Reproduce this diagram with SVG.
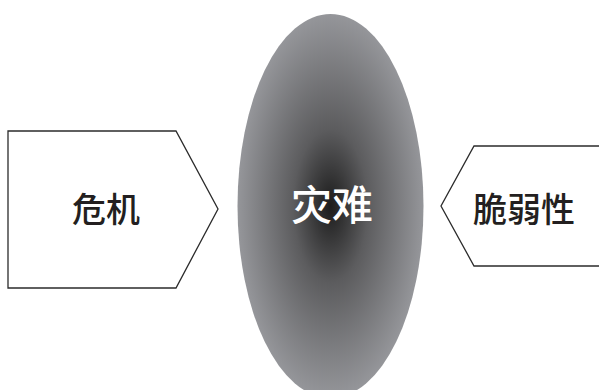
<svg xmlns="http://www.w3.org/2000/svg" width="599" height="390" viewBox="0 0 599 390">
<defs>
<radialGradient id="g" cx="0.5" cy="0.5" r="0.5">
<stop offset="0" stop-color="#1c1c1c"/>
<stop offset="0.4" stop-color="#5c5c5e"/>
<stop offset="1" stop-color="#95969a"/>
</radialGradient>
<style>
.box{fill:#fff;stroke:#2b2b2b;stroke-width:1.3}
.t{font-family:"Noto Sans CJK SC",sans-serif;font-size:34px;font-weight:500;fill:#231f20;text-anchor:middle}
.w{font-family:"Noto Sans CJK SC",sans-serif;font-size:41px;font-weight:500;fill:#fff;text-anchor:middle}
</style>
</defs>
<g id="crisis">
<polygon class="box" points="8,131 176,131 218,209 176,288 8,288"/>
<text class="t" x="106" y="222">危机</text>
</g>
<g id="disaster">
<ellipse cx="330.5" cy="206" rx="93" ry="192" fill="url(#g)"/>
<text class="w" x="332" y="220">灾难</text>
</g>
<g id="vulnerability">
<polygon class="box" points="602,146 474,146 441,206 474,266 602,266"/>
<text class="t" x="524" y="222">脆弱性</text>
</g>
<g id="connectors"/>
</svg>
